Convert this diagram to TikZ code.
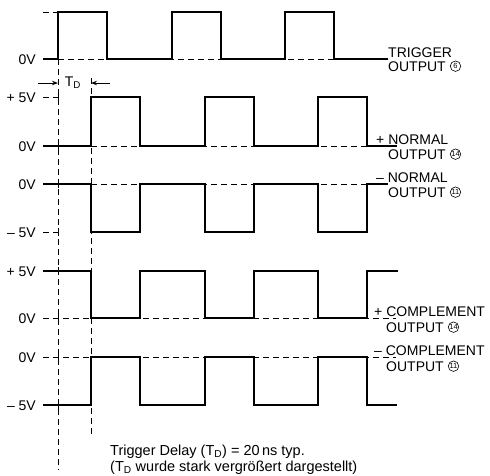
\documentclass[tikz,border=0pt]{standalone}
\usepackage{fontspec}
\setmainfont{Liberation Sans}
\usetikzlibrary{arrows.meta,positioning}

\begin{document}
\begin{tikzpicture}[x=1pt,y=-1pt,
	signal/.style={line width=1.3pt,line join=miter},
	refline/.style={line width=0.9pt,dash pattern=on 6pt off 4pt},
	tick/.style={line width=0.9pt},
	volt/.style={anchor=base east,inner sep=0pt,font=\fontsize{14}{14}\selectfont},
	outname/.style={anchor=base west,inner sep=0pt,font=\fontsize{14}{14}\selectfont},
	pinno/.style={circle,draw,line width=0.6pt,minimum size=10.5pt,inner sep=0pt,font=\fontsize{7.5}{7.5}\selectfont},
	tdarrow/.style={line width=1pt,-{Stealth[length=6pt,width=4.5pt]}}]
	\useasboundingbox (0,0) rectangle (490,475);

	\draw[refline] (58,59) -- (58,470);
	\draw[refline] (91,78) -- (91,437);
	\foreach \y in {97,146,184,232,271,318,357,405}
		\draw[tick] (58,\y-4) -- (58,\y+4);

	\draw[refline] (43,12) -- (58,12);
	\draw[refline] (58,59) -- (388,59);
	\draw[signal] (43,59) foreach \x in {58,172,285} {-- (\x,59) -- (\x,12) -- (\x+49,12) -- (\x+49,59)} -- (388,59);

	\draw[refline] (43,97) -- (58,97);
	\draw[refline] (91,146) -- (397,146);
	\draw[signal] (43,146) foreach \x in {91,205,318} {-- (\x,146) -- (\x,97) -- (\x+49,97) -- (\x+49,146)} -- (397,146);

	\draw[refline] (43,232) -- (58,232);
	\draw[refline] (91,184) -- (388,184);
	\draw[signal] (43,184) foreach \x in {91,205,318} {-- (\x,184) -- (\x,232) -- (\x+49,232) -- (\x+49,184)} -- (388,184);

	\draw[refline] (43,318) -- (396,318);
	\draw[signal] (43,271) foreach \x in {91,205,318} {-- (\x,271) -- (\x,318) -- (\x+49,318) -- (\x+49,271)} -- (398,271);

	\draw[refline] (43,357) -- (396,357);
	\draw[signal] (43,405) foreach \x in {91,205,318} {-- (\x,405) -- (\x,357) -- (\x+49,357) -- (\x+49,405)} -- (397,405);

	\node[volt] (v1) at (36,64) {0V};
	\node[volt] (v2) at (36,102) {+ 5V};
	\node[volt] (v3) at (36,151) {0V};
	\node[volt] (v4) at (36,189) {0V};
	\node[volt] (v5) at (36,237) {– 5V};
	\node[volt] (v6) at (36,276) {+ 5V};
	\node[volt] (v7) at (36,323) {0V};
	\node[volt] (v8) at (36,362) {0V};
	\node[volt] (v9) at (36,410) {– 5V};

	\coordinate (tdA) at (58,83);
	\coordinate (tdB) at (91,83);
	\draw[tdarrow] ([xshift=-20pt]tdA) -- (tdA);
	\draw[tdarrow] ([xshift=19pt]tdB) -- (tdB);
	\node[font=\fontsize{14}{14}\selectfont] (td) at (73,83) {T\textsubscript{D}};

	\node[outname] (trigA) at (388,57) {TRIGGER};
	\node[outname] (trigB) at (388,71) {OUTPUT};
	\node[pinno,right=4pt of trigB] (trigPin) {6};
	\node[outname] (normpA) at (376,144) {+ NORMAL};
	\node[outname] (normpB) at (388,159) {OUTPUT};
	\node[pinno,right=4pt of normpB] (normpPin) {14};
	\node[outname] (normmA) at (376,182) {– NORMAL};
	\node[outname] (normmB) at (388,197) {OUTPUT};
	\node[pinno,right=4pt of normmB] (normmPin) {11};
	\node[outname] (compA) at (374,316) {+ COMPLEMENT};
	\node[outname] (compB) at (386,332) {OUTPUT};
	\node[pinno,right=4pt of compB] (compPin) {14};
	\node[outname] (compmA) at (374,355) {– COMPLEMENT};
	\node[outname] (compmB) at (386,371) {OUTPUT};
	\node[pinno,right=4pt of compmB] (compmPin) {11};

	\node[outname,font=\fontsize{14.5}{14.5}\selectfont] (delayA) at (110,455) {Trigger Delay (T\textsubscript{D}) = 20\,ns typ.};
	\node[outname,font=\fontsize{14.5}{14.5}\selectfont] (delayB) at (110,471) {(T\textsubscript{D} wurde stark vergrößert dargestellt)};
\end{tikzpicture}
\end{document}
